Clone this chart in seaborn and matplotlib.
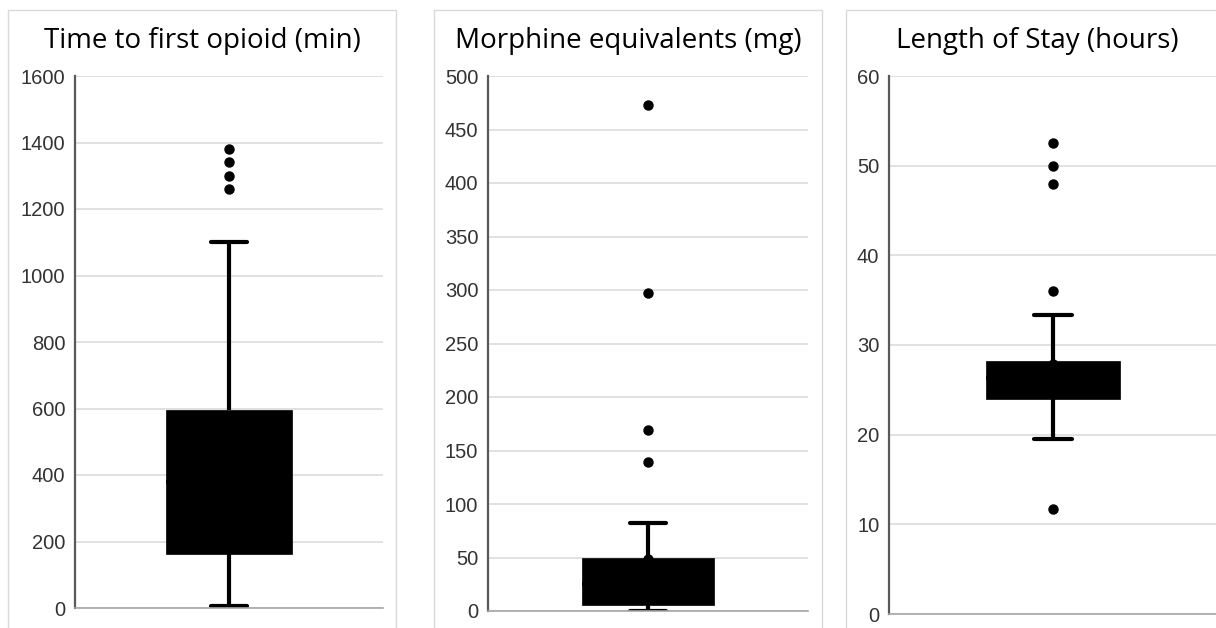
import matplotlib
matplotlib.use("Agg")
import matplotlib.pyplot as plt
import seaborn as sns
import pandas as pd
from matplotlib.patches import Rectangle

# ---- data ----
titles = ["Time to first opioid (min)", "Morphine equivalents (mg)", "Length of Stay (hours)"]

time_to_opioid = [6, 40, 80, 120, 150, 163, 220, 280, 320, 350, 380, 420, 460, 510, 560, 594,
                  1100, 1260, 1300, 1340, 1380]
morphine_eq = [0, 1, 2, 3, 5, 6, 10, 14, 18, 22, 25, 30, 35, 40, 45, 50,
               82, 139, 169, 297, 473]
length_of_stay = [11.7, 19.5, 21.0, 22.5, 23.5, 24.0, 24.5, 25.0, 25.5, 26.0, 26.3, 26.6, 27.0,
                  27.4, 27.8, 28.2, 33.4, 36.0, 48.0, 50.0, 52.5]

means = [420, 48.5, 27.9]
y_max = [1600, 500, 60]
y_step = [200, 50, 10]

series = [time_to_opioid, morphine_eq, length_of_stay]

# ---- style ----
sns.set_theme(style="white")
plt.rcParams["font.family"] = ["Liberation Sans", "DejaVu Sans"]

W, H = 1216, 628
fig = plt.figure(figsize=(W / 100, H / 100), dpi=100)

def fx(px):
    return px / W

def fy(py):
    return 1 - py / H

# axes rectangles in pixels: left, right, top, bottom
axes_px = [(75, 383, 76, 608), (488, 808, 76, 611), (889, 1217, 76, 614)]
frames_px = [(8, 396), (434, 822), (846, 1229)]

for i, vals in enumerate(series):
    l, r, t, b = axes_px[i]
    ax = fig.add_axes([fx(l), fy(b), fx(r) - fx(l), fy(t) - fy(b)])
    df = pd.DataFrame({"value": vals})
    sns.boxplot(data=df, y="value", ax=ax, width=0.41, color="black", linecolor="black",
                linewidth=3, fliersize=6.5,
                boxprops={"linewidth": 0.5},
                flierprops={"marker": "o", "markerfacecolor": "black", "markeredgecolor": "black"},
                whiskerprops={"linewidth": 3}, capprops={"linewidth": 3},
                capwidths=0.115)
    sns.scatterplot(x=[0], y=[means[i]], ax=ax, color="black", s=55, marker="o",
                    edgecolor="black", linewidth=0, zorder=5)
    ax.set_xlim(-0.5, 0.5)
    ax.set_ylim(0, y_max[i])
    ax.set_yticks(range(0, y_max[i] + 1, y_step[i]))
    ax.set_xticks([])
    ax.set_xlabel("")
    ax.set_ylabel("")
    ax.grid(axis="y", color="#d9d9d9", linewidth=1.1)
    ax.set_axisbelow(True)
    for s in ["top", "right"]:
        ax.spines[s].set_visible(False)
    ax.spines["left"].set_color("#595959")
    ax.spines["left"].set_linewidth(1.6)
    ax.spines["bottom"].set_color("#a6a6a6")
    ax.spines["bottom"].set_linewidth(1.2)
    ax.tick_params(axis="y", length=0, pad=7, labelsize=14.5, labelcolor="#333333")

    # chart area frame
    x0, x1 = frames_px[i]
    fig.add_artist(Rectangle((fx(x0), fy(700)), fx(x1) - fx(x0), fy(10) - fy(700),
                             transform=fig.transFigure, fill=False,
                             edgecolor="#d9d9d9", linewidth=1.0, zorder=0))
    fig.text(fx((x0 + x1) / 2), fy(48), titles[i], ha="center", va="baseline",
             fontsize=20, family=["Open Sans", "DejaVu Sans"], color="black")

fig.savefig("out.png", dpi=100, facecolor="white")
